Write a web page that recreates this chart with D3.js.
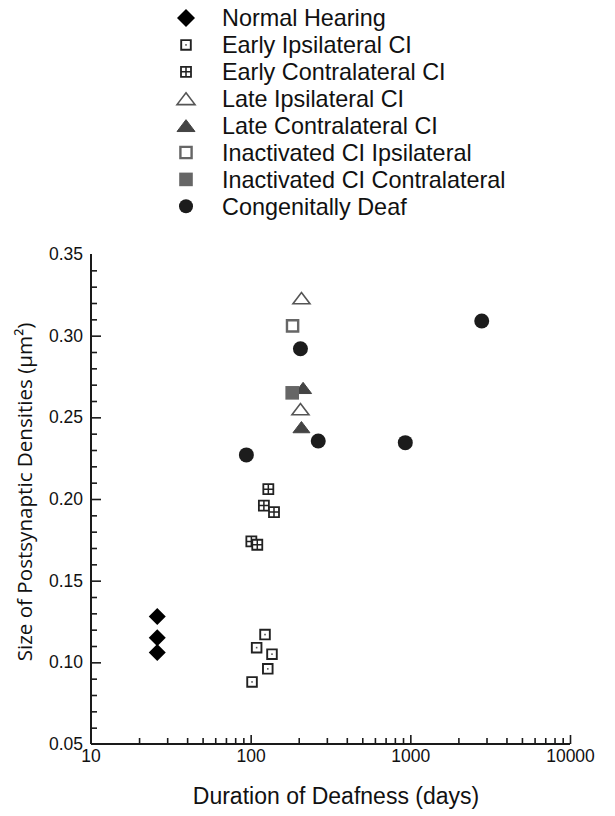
<!DOCTYPE html>
<html>
<head>
<meta charset="utf-8">
<script src="https://cdn.jsdelivr.net/npm/d3@7"></script>
<style>
  body { margin: 0; background: #fff; }
  svg { display: block; }
  text { font-family: "Liberation Sans", Arial, sans-serif; fill: #111; }
</style>
</head>
<body>
<svg id="chart" width="615" height="816"></svg>
<script>
// values (days, µm²)
const normalDays = [26, 26, 26];
const normalSize = [0.128, 0.115, 0.106];
const earlyIpsiDays = [123, 109, 136, 128, 102];
const earlyIpsiSize = [0.117, 0.109, 0.105, 0.096, 0.088];
const earlyContraDays = [129, 121, 140, 101, 110];
const earlyContraSize = [0.206, 0.196, 0.192, 0.174, 0.172];
const lateIpsiDays = [208, 205];
const lateIpsiSize = [0.323, 0.255];
const lateContraDays = [213, 208];
const lateContraSize = [0.268, 0.244];
const inactIpsiDays = [183];
const inactIpsiSize = [0.306];
const inactContraDays = [182];
const inactContraSize = [0.265];
const deafDays = [94, 205, 265, 930, 2800];
const deafSize = [0.227, 0.292, 0.2355, 0.2345, 0.309];

const xMajor = [10, 100, 1000, 10000];
const yMajor = [0.05, 0.10, 0.15, 0.20, 0.25, 0.30, 0.35];

const svg = d3.select('#chart');
const x = d3.scaleLog().domain([10, 10000]).range([91, 570]);
const y = d3.scaleLinear().domain([0.05, 0.35]).range([744, 254]);

const shapes = {
  diamond: s => `M0,${-s}L${s},0L0,${s}L${-s},0Z`,
  square: s => `M${-s},${-s}h${2 * s}v${2 * s}h${-2 * s}Z`,
  triangle: s => `M0,${-s * 0.66}L${s},${s * 0.66}L${-s},${s * 0.66}Z`,
  circle: s => d3.symbol(d3.symbolCircle, Math.PI * s * s)()
};

const series = [
  {name: 'Normal Hearing', days: normalDays, size: normalSize, shape: 'diamond', r: 8.5, fill: '#000', stroke: 'none'},
  {name: 'Early Ipsilateral CI', days: earlyIpsiDays, size: earlyIpsiSize, shape: 'square', r: 4.8, fill: '#fff', stroke: '#222', sw: 1.9, inner: 'dot'},
  {name: 'Early Contralateral CI', days: earlyContraDays, size: earlyContraSize, shape: 'square', r: 5, fill: '#fff', stroke: '#222', sw: 1.8, inner: 'plus'},
  {name: 'Late Ipsilateral CI', days: lateIpsiDays, size: lateIpsiSize, shape: 'triangle', r: 8.5, fill: '#fff', stroke: '#555', sw: 1.6},
  {name: 'Late Contralateral CI', days: lateContraDays, size: lateContraSize, shape: 'triangle', r: 8.5, fill: '#444', stroke: '#444', sw: 1},
  {name: 'Inactivated CI Ipsilateral', days: inactIpsiDays, size: inactIpsiSize, shape: 'square', r: 5.6, fill: '#fff', stroke: '#666', sw: 2.4},
  {name: 'Inactivated CI Contralateral', days: inactContraDays, size: inactContraSize, shape: 'square', r: 6.8, fill: '#666', stroke: 'none'},
  {name: 'Congenitally Deaf', days: deafDays, size: deafSize, shape: 'circle', r: 7.5, fill: '#1c1c1c', stroke: 'none'}
];

function drawMarker(g, s) {
  g.append('path')
    .attr('d', shapes[s.shape](s.r))
    .attr('fill', s.fill)
    .attr('stroke', s.stroke)
    .attr('stroke-width', s.sw || 0);
  if (s.inner === 'dot') {
    g.append('rect').attr('x', -0.8).attr('y', -0.8).attr('width', 1.6).attr('height', 1.6).attr('fill', '#555');
  }
  if (s.inner === 'plus') {
    g.append('path').attr('d', `M${-s.r},0H${s.r}M0,${-s.r}V${s.r}`)
      .attr('stroke', '#222').attr('stroke-width', 1.5);
  }
}

// axes
const xTicks = [];
for (let p = 10; p < 10000; p *= 10) for (let k = 1; k < 10; k++) xTicks.push(p * k);
xTicks.push(10000);
const xAxis = svg.append('g')
  .attr('transform', `translate(0,${y(0.05)})`)
  .call(d3.axisBottom(x).tickValues(xTicks.filter(d => d > 10))
    .tickSize(-6).tickPadding(6)
    .tickFormat(d => xMajor.includes(d) ? d : ''));
xAxis.selectAll('.tick line').filter(d => xMajor.includes(d)).attr('y2', -9);
svg.append('text').attr('x', x(10)).attr('y', y(0.05) + 18)
  .attr('text-anchor', 'middle').attr('font-size', 17.5).text('10');

const yTicks = d3.range(5, 35, 1).map(d => d / 100);
const yAxis = svg.append('g')
  .attr('transform', `translate(${x(10)},0)`)
  .call(d3.axisLeft(y).tickValues(yTicks.filter(d => d > 0.05))
    .tickSize(-6).tickPadding(8)
    .tickFormat(d => yMajor.some(m => Math.abs(m - d) < 1e-9) ? d3.format('.2f')(d) : ''));
yAxis.selectAll('.tick line').filter(d => yMajor.some(m => Math.abs(m - d) < 1e-9)).attr('x2', 10);
svg.append('text').attr('x', x(10) - 8).attr('y', y(0.05)).attr('dy', '0.32em')
  .attr('text-anchor', 'end').attr('font-size', 17.5).text('0.05');
svg.append('text').attr('x', x(10) - 8).attr('y', y(0.35)).attr('dy', '0.32em')
  .attr('text-anchor', 'end').attr('font-size', 17.5).text('0.35');

[xAxis, yAxis].forEach(a => {
  a.select('.domain').attr('stroke', '#1a1a1a').attr('stroke-width', 2);
  a.selectAll('.tick line').attr('stroke', '#1a1a1a').attr('stroke-width', 1.6);
  a.selectAll('.tick text').attr('font-size', 17.5).attr('font-family', '"Liberation Sans", Arial, sans-serif').attr('fill', '#111');
});
yAxis.select('.domain').attr('d', `M0,${y(0.35)}V${y(0.05)}`);
xAxis.select('.domain').attr('d', `M${x(10)},0H${x(10000)}`);

// axis titles
svg.append('text').attr('x', 336).attr('y', 804)
  .attr('text-anchor', 'middle').attr('font-size', 23).text('Duration of Deafness (days)');
svg.append('text')
  .attr('transform', `translate(32,${492}) rotate(-90)`)
  .attr('text-anchor', 'middle').attr('font-size', 20.6)
  .style('font-family', '"Open Sans", sans-serif')
  .text('Size of Postsynaptic Densities (µm²)');

// points
series.forEach(s => {
  svg.append('g').selectAll('g')
    .data(d3.zip(s.days, s.size))
    .join('g')
    .attr('transform', d => `translate(${x(d[0])},${y(d[1])})`)
    .each(function () { drawMarker(d3.select(this), s); });
});

// legend
const legend = svg.append('g');
series.forEach((s, i) => {
  const row = legend.append('g').attr('transform', `translate(186,${18 + i * 26.9})`);
  const ls = Object.assign({}, s, {r: s.shape === 'diamond' ? 9 : s.shape === 'triangle' ? 9 : s.shape === 'circle' ? 7 : s.r});
  drawMarker(row, ls);
  row.append('text').attr('x', 36).attr('dy', '0.36em').attr('font-size', 23.4).text(s.name);
});
</script>
</body>
</html>
